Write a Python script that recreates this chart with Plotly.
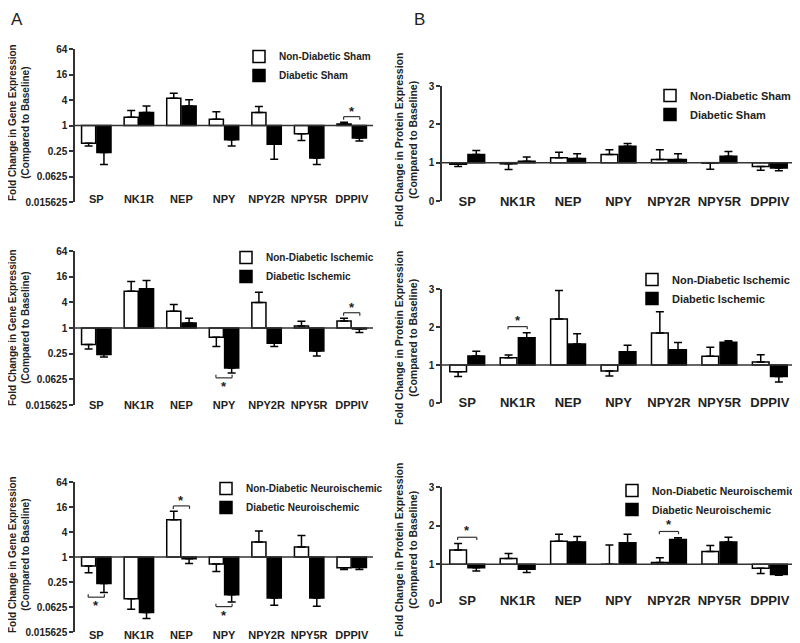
import numpy as np
import plotly.graph_objects as go

categories = ["SP", "NK1R", "NEP", "NPY", "NPY2R", "NPY5R", "DPPIV"]

# ---- A: gene expression (fold change, log2 axis) ----
gene_sham_nd = [0.38, 1.57, 4.4, 1.41, 2.03, 0.64, 1.09]
gene_sham_nd_err = [0.05, 0.69, 1.4, 0.69, 0.77, 0.20, 0.11]
gene_sham_d = [0.23, 2.03, 2.9, 0.46, 0.36, 0.17, 0.51]
gene_sham_d_err = [0.11, 0.87, 1.15, 0.13, 0.20, 0.05, 0.08]

gene_isch_nd = [0.41, 7.3, 2.47, 0.61, 3.95, 1.11, 1.46]
gene_isch_nd_err = [0.09, 5.1, 1.08, 0.24, 2.95, 0.33, 0.23]
gene_isch_d = [0.24, 8.3, 1.31, 0.116, 0.44, 0.29, 0.95]
gene_isch_d_err = [0.03, 4.7, 0.38, 0.028, 0.07, 0.07, 0.17]

gene_neuro_nd = [0.61, 0.099, 7.9, 0.68, 2.3, 1.74, 0.55]
gene_neuro_nd_err = [0.19, 0.044, 4.7, 0.23, 1.9, 1.56, 0.05]
gene_neuro_d = [0.23, 0.046, 0.91, 0.124, 0.103, 0.103, 0.56]
gene_neuro_d_err = [0.09, 0.013, 0.21, 0.041, 0.034, 0.038, 0.06]

# ---- B: protein expression (fold change, linear axis) ----
prot_sham_nd = [0.96, 0.97, 1.13, 1.21, 1.08, 0.99, 0.90]
prot_sham_nd_err = [0.06, 0.15, 0.14, 0.13, 0.26, 0.16, 0.10]
prot_sham_d = [1.21, 1.04, 1.11, 1.43, 1.08, 1.17, 0.86]
prot_sham_d_err = [0.11, 0.11, 0.12, 0.07, 0.15, 0.12, 0.07]

prot_isch_nd = [0.82, 1.19, 2.21, 0.84, 1.84, 1.23, 1.08]
prot_isch_nd_err = [0.12, 0.07, 0.75, 0.13, 0.56, 0.24, 0.19]
prot_isch_d = [1.24, 1.72, 1.55, 1.35, 1.40, 1.60, 0.70]
prot_isch_d_err = [0.12, 0.13, 0.27, 0.17, 0.19, 0.04, 0.15]

prot_neuro_nd = [1.37, 1.15, 1.60, 1.00, 1.05, 1.33, 0.90]
prot_neuro_nd_err = [0.17, 0.13, 0.18, 0.50, 0.12, 0.16, 0.14]
prot_neuro_d = [0.91, 0.87, 1.58, 1.56, 1.64, 1.58, 0.74]
prot_neuro_d_err = [0.08, 0.08, 0.14, 0.22, 0.05, 0.12, 0.02]

# significance: (category, "above"/"below")
sig_gene_sham = [("DPPIV", "above")]
sig_gene_isch = [("NPY", "below"), ("DPPIV", "above")]
sig_gene_neuro = [("SP", "below"), ("NEP", "above"), ("NPY", "below")]
sig_prot_sham = []
sig_prot_isch = [("NK1R", "above")]
sig_prot_neuro = [("SP", "above"), ("NPY2R", "above")]

gene_ticks = [64, 16, 4, 1, 0.25, 0.0625, 0.015625]
gene_ticktext = ["64", "16", "4", "1", "0.25", "0.0625", "0.015625"]
prot_ticks = [0, 1, 2, 3]

group_names = ["Sham", "Ischemic", "Neuroischemic"]

FONT = "Arial, Liberation Sans, sans-serif"
INK = "#222222"

panels = [
    (0, 0, gene_sham_nd, gene_sham_nd_err, gene_sham_d, gene_sham_d_err, sig_gene_sham, "gene", 0),
    (0, 1, prot_sham_nd, prot_sham_nd_err, prot_sham_d, prot_sham_d_err, sig_prot_sham, "prot", 0),
    (1, 0, gene_isch_nd, gene_isch_nd_err, gene_isch_d, gene_isch_d_err, sig_gene_isch, "gene", 1),
    (1, 1, prot_isch_nd, prot_isch_nd_err, prot_isch_d, prot_isch_d_err, sig_prot_isch, "prot", 1),
    (2, 0, gene_neuro_nd, gene_neuro_nd_err, gene_neuro_d, gene_neuro_d_err, sig_gene_neuro, "gene", 2),
    (2, 1, prot_neuro_nd, prot_neuro_nd_err, prot_neuro_d, prot_neuro_d_err, sig_prot_neuro, "prot", 2),
]

# page has an 8px body margin; figure is sized/positioned to compensate
OFF = 8
W, H = 792, 635
def px_x(p):
    return (p - OFF) / W
def px_y(p):
    return 1 - (p - OFF) / H

x_domains = {0: [px_x(75), px_x(373)], 1: [px_x(442), px_x(795)]}
y_domains = {
    (0, 0): [px_y(202), px_y(49)],
    (1, 0): [px_y(405), px_y(251)],
    (2, 0): [px_y(632), px_y(482)],
    (0, 1): [px_y(201), px_y(86)],
    (1, 1): [px_y(403), px_y(289)],
    (2, 1): [px_y(603), px_y(487)],
}
# y position of the top of category labels
label_top = {
    (0, 0): 191, (1, 0): 397, (2, 0): 627,
    (0, 1): 192, (1, 1): 393, (2, 1): 591,
}
legend_pos = {
    (0, 0): (px_x(239), px_y(42), 10),
    (1, 0): (px_x(226), px_y(243), 10),
    (2, 0): (px_x(206), px_y(474), 10),
    (0, 1): (px_x(650), px_y(81), 11),
    (1, 1): (px_x(632), px_y(265), 11),
    (2, 1): (px_x(612), px_y(476), 10.5),
}

fig = go.Figure()
layout = dict(
    width=W, height=H,
    margin=dict(l=0, r=0, t=0, b=0, autoexpand=False),
    paper_bgcolor="white", plot_bgcolor="white",
    barmode="group", bargap=0.28, bargroupgap=0.08,
    font=dict(family=FONT, color=INK),
    showlegend=True,
)
shapes = []
annotations = []
xidx = np.arange(len(categories))
offs = 0.19

for k, (r, c, nd, nde, d, de, sig, kind, g) in enumerate(panels):
    n = k + 1
    xa = "x" if n == 1 else f"x{n}"
    ya = "y" if n == 1 else f"y{n}"
    leg = "legend" if n == 1 else f"legend{n}"
    xkey = "xaxis" if n == 1 else f"xaxis{n}"
    ykey = "yaxis" if n == 1 else f"yaxis{n}"
    lx, ly, lfs = legend_pos[(r, c)]
    labels = [f"Non-Diabetic {group_names[g]}", f"Diabetic {group_names[g]}"]
    ends = []
    for vals, errs, fill, name in [(nd, nde, "white", labels[0]), (d, de, "black", labels[1])]:
        vals = np.array(vals, float)
        errs = np.array(errs, float)
        up = np.where(vals >= 1, errs, 0.0)
        dn = np.where(vals < 1, errs, 0.0)
        ends.append(np.where(vals >= 1, vals + errs, vals - errs))
        fig.add_trace(go.Bar(
            x=xidx, y=vals - 1, base=1, name=name,
            marker=dict(color=fill, line=dict(color="black", width=1.5)),
            error_y=dict(type="data", symmetric=False, array=up, arrayminus=dn,
                         color="black", thickness=1.5, width=4),
            xaxis=xa, yaxis=ya, legend=leg, showlegend=True,
        ))
    layout[leg] = dict(x=lx, y=ly, xanchor="left", yanchor="top",
                       bgcolor="rgba(0,0,0,0)",
                       font=dict(family=FONT, size=lfs, color=INK, weight="bold"),
                       tracegroupgap=0, itemwidth=30)
    cat_fs = 11 if kind == "gene" else 13
    layout[xkey] = dict(domain=x_domains[c], anchor="free", position=px_y(label_top[(r, c)]),
                        range=[-0.5, 6.5], automargin=False,
                        tickvals=list(xidx), ticktext=categories,
                        ticks="", showline=False,
                        showgrid=False, zeroline=False,
                        tickfont=dict(family=FONT, size=cat_fs, color=INK, weight="bold"))
    if kind == "gene":
        layout[ykey] = dict(domain=y_domains[(r, c)], anchor=xa, type="log",
                            range=[np.log10(0.015625), np.log10(64)], automargin=False,
                            tickvals=gene_ticks, ticktext=gene_ticktext,
                            showline=True, linecolor="#333", linewidth=1.5,
                            ticks="outside", ticklen=4, tickwidth=1.5, tickcolor="#333",
                            showgrid=False, zeroline=False,
                            tickfont=dict(family=FONT, size=10, color=INK, weight="bold"))
    else:
        layout[ykey] = dict(domain=y_domains[(r, c)], anchor=xa, range=[0, 3],
                            automargin=False,
                            tickvals=prot_ticks, showline=True, linecolor="#333",
                            linewidth=1.5, ticks="outside", ticklen=4, tickwidth=1.5,
                            tickcolor="#333", showgrid=False, zeroline=False,
                            tickfont=dict(family=FONT, size=10, color=INK, weight="bold"))
    # baseline at 1
    shapes.append(dict(type="line", xref=f"{xa} domain", yref=ya, x0=0, x1=1, y0=1, y1=1,
                       line=dict(color="#333", width=1.5), layer="above"))
    # significance brackets
    for cat, side in sig:
        i = categories.index(cat)
        x0, x1 = i - offs, i + offs
        tops = [ends[0][i], ends[1][i]]
        if kind == "gene":
            if side == "above":
                yb = max(tops) * 1.35
                yh = yb / 1.18
                ys = yb * 1.32
            else:
                yb = min(tops) / 1.3
                yh = yb * 1.18
                ys = yb / 1.6
        else:
            yb = max(tops) + 0.16
            yh = yb - 0.07
            ys = yb + 0.17
        for xx in (x0, x1):
            shapes.append(dict(type="line", xref=xa, yref=ya, x0=xx, x1=xx, y0=yh, y1=yb,
                               line=dict(color="#333", width=1.2)))
        shapes.append(dict(type="line", xref=xa, yref=ya, x0=x0, x1=x1, y0=yb, y1=yb,
                           line=dict(color="#333", width=1.2)))
        ysv = np.log10(ys) if kind == "gene" else ys
        annotations.append(dict(x=i, y=ysv, xref=xa, yref=ya, text="*", showarrow=False,
                                font=dict(family=FONT, size=13, color=INK, weight="bold"),
                                yanchor="middle"))

# axis titles
gene_centers = [123, 328, 555]
prot_centers = [140, 338, 550]
for rr in range(3):
    annotations.append(dict(
        x=px_x(19), y=px_y(gene_centers[rr]), xref="paper", yref="paper",
        text="Fold Change in Gene Expression<br>(Compared to Baseline)",
        textangle=-90, showarrow=False, xanchor="center", yanchor="middle",
        font=dict(family=FONT, size=10, color=INK, weight="bold")))
    annotations.append(dict(
        x=px_x(406), y=px_y(prot_centers[rr]), xref="paper", yref="paper",
        text="Fold Change in Protein Expression<br>(Compared to Baseline)",
        textangle=-90, showarrow=False, xanchor="center", yanchor="middle",
        font=dict(family=FONT, size=10.5, color=INK, weight="bold")))

annotations.append(dict(x=px_x(9), y=px_y(19.5), xref="paper", yref="paper", text="A",
                        showarrow=False, xanchor="left", yanchor="middle",
                        font=dict(family=FONT, size=17, color=INK)))
annotations.append(dict(x=px_x(419), y=px_y(19.5), xref="paper", yref="paper", text="B",
                        showarrow=False, xanchor="center", yanchor="middle",
                        font=dict(family=FONT, size=17, color=INK)))

layout["shapes"] = shapes
layout["annotations"] = annotations
fig.update_layout(**layout)
fig.write_html("out.html")
